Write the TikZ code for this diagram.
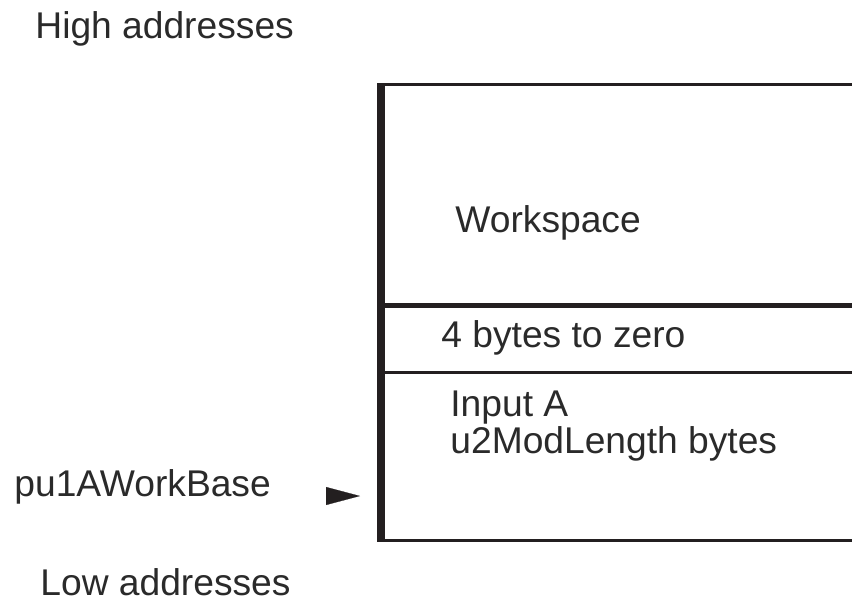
\documentclass[tikz,border=0pt]{standalone}
\usepackage{fontspec}
\setmainfont{Liberation Sans}
\usetikzlibrary{arrows.meta}
\definecolor{ink}{HTML}{231F20}
\definecolor{txt}{HTML}{2A2A2A}
\begin{document}
\begin{tikzpicture}[x=0.5pt,y=-0.5pt,
  lbl/.style={anchor=base west,inner sep=0pt,text=txt,font=\fontsize{18.6pt}{16pt}\selectfont},
  thinrule/.style={draw=ink,line width=1.5pt},
  midrule/.style={draw=ink,line width=2.5pt},
  wall/.style={draw=ink,line width=4pt},
  pointer/.style={-{Triangle[length=17pt,width=9pt]},draw=ink,fill=ink,line width=0.1pt}]
\useasboundingbox (0,0) rectangle (852,600);
% coordinates of the memory column
\coordinate (tl) at (377,84.5);
\coordinate (tr) at (852,84.5);
\coordinate (ml) at (381,305);
\coordinate (mr) at (852,305);
\coordinate (nl) at (381,372.5);
\coordinate (nr) at (852,372.5);
\coordinate (bl) at (381,540);
\coordinate (br) at (852,540);
\coordinate (wtop) at (381,83);
\coordinate (wbot) at (381,541.5);
% rules
\draw[thinrule] (tl) -- (tr);
\draw[midrule] (ml) -- (mr);
\draw[thinrule] (nl) -- (nr);
\draw[thinrule] (bl) -- (br);
\draw[wall] (wtop) -- (wbot);
% labels
\node[lbl] (high) at (35,38) {High addresses};
\node[lbl] (ws) at (455,232) {Workspace};
\node[lbl] (four) at (441,347) {4 bytes to zero};
\node[lbl,align=left] (inA) at (450,453) {Input A\\u2ModLength bytes};
\node[lbl] (base) at (14,496) {pu1AWorkBase};
\node[lbl] (low) at (40,595) {Low addresses};
% pointer
\coordinate (ps) at (326,496);
\coordinate (pe) at (360,496);
\draw[pointer] (ps) -- (pe);
\end{tikzpicture}
\end{document}
